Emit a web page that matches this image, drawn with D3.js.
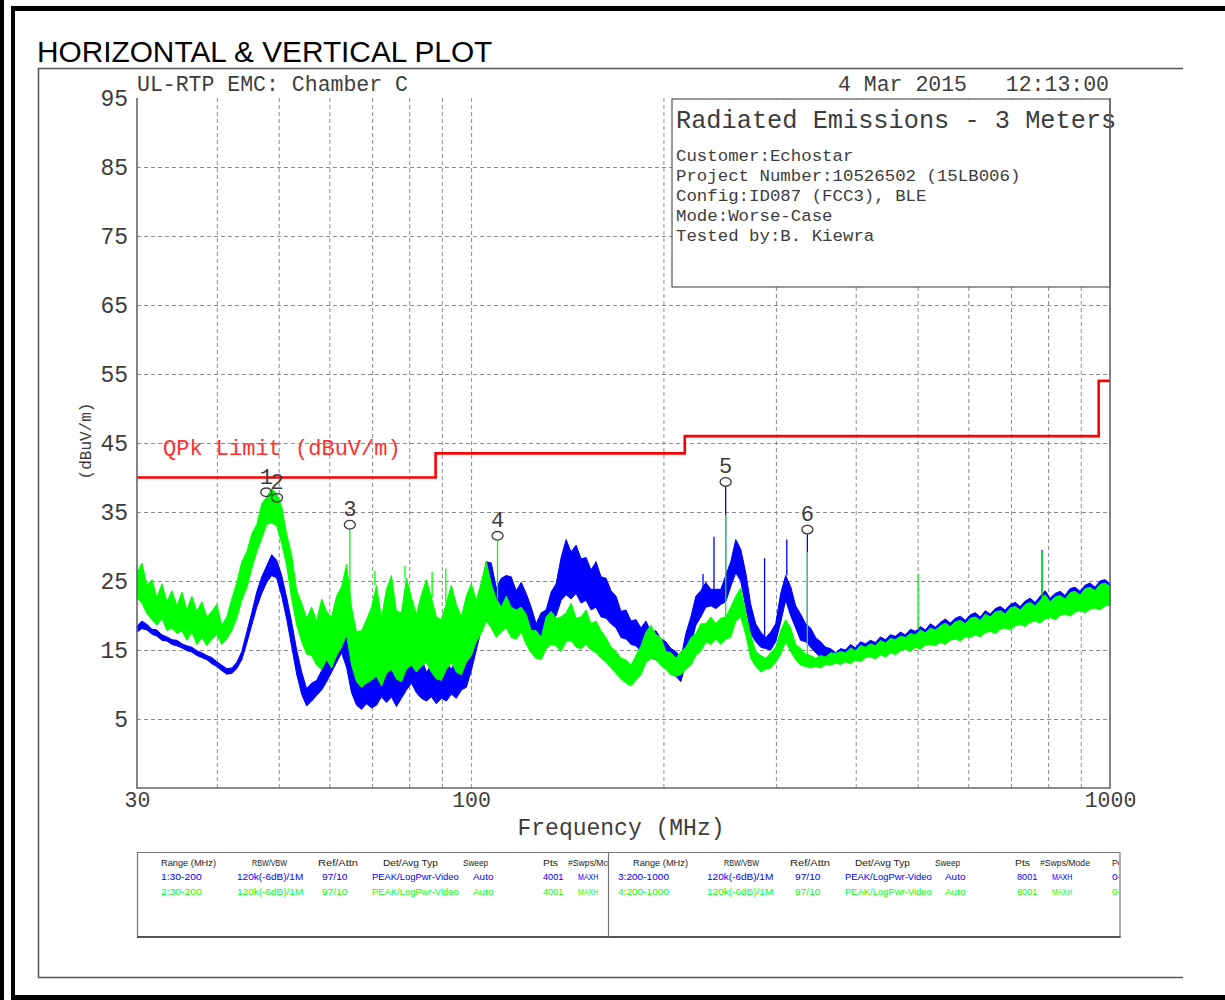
<!DOCTYPE html>
<html>
<head>
<meta charset="utf-8">
<script src="https://cdn.jsdelivr.net/npm/d3@7"></script>
<style>
  html, body { margin: 0; padding: 0; background: #fff; }
  svg { display: block; }
</style>
</head>
<body>
<svg id="chart" width="1225" height="1000"></svg>
<script>
// ---------------- data ----------------
const plotTitle = "HORIZONTAL & VERTICAL PLOT";
const siteLabel = "UL-RTP EMC: Chamber C";
const runDate = "4 Mar 2015";
const runTime = "12:13:00";
const infoTitle = "Radiated Emissions - 3 Meters";
const infoLines = [
  "Customer:Echostar",
  "Project Number:10526502 (15LB006)",
  "Config:ID087 (FCC3), BLE",
  "Mode:Worse-Case",
  "Tested by:B. Kiewra"
];
const yAxisTitle = "(dBuV/m)";
const xAxisTitle = "Frequency (MHz)";
const limitTitle = "QPk Limit (dBuV/m)";

const yTicks = [95, 85, 75, 65, 55, 45, 35, 25, 15, 5];
const yGrid = [85, 75, 65, 55, 45, 35, 25, 15, 5];
const xLabels = [30, 100, 1000];
const xGrid = [40, 50, 60, 70, 80, 90, 100, 200, 300, 400, 500, 600, 700, 800, 900];

// FCC class B quasi-peak limit, 3 m (MHz, dBuV/m)
const limitSteps = [[30, 40], [88, 43.5], [216, 46], [960, 54], [1000, 54]];

// trace envelopes (dBuV/m), min and max of each display bin on a
// log-spaced grid of 196 bins from 30 to 1000 MHz
const gridPoints = 196;
const blueLow = [
  17.6,18.1,17.9,17.3,17.0,16.4,16.3,15.8,15.6,15.3,
  14.9,14.7,14.2,13.9,13.6,13.0,12.6,12.0,11.5,11.6,
  12.3,13.6,16.0,18.6,21.2,23.2,24.8,25.8,25.4,22.8,
  19.5,15.5,11.5,8.6,6.9,7.6,8.4,9.2,10.4,11.8,
  13.2,14.6,12.5,8.8,7.0,6.4,7.2,6.6,7.0,8.2,
  7.4,8.2,6.8,8.0,9.2,10.2,8.8,8.0,7.6,8.2,
  7.2,8.0,7.6,8.6,8.0,9.2,9.6,12.0,15.0,18.0,
  21.8,22.2,20.2,21.0,22.2,21.0,20.2,21.2,19.4,17.0,
  15.6,16.2,17.4,19.2,20.0,22.2,23.0,22.4,23.2,21.8,
  22.2,20.8,21.2,19.8,19.6,18.8,18.2,16.8,16.6,15.8,
  15.6,14.8,14.6,13.8,13.6,12.8,12.6,11.8,11.2,10.4,
  13.2,15.8,18.6,19.8,21.2,21.4,21.0,21.6,22.0,24.2,
  26.2,25.0,21.2,17.4,16.2,15.4,15.2,15.0,16.2,19.0,
  22.2,20.0,18.2,16.4,16.2,15.4,14.6,14.0,13.6,13.0,
  13.2,
  13.3,13.6,13.2,13.9,13.5,14.1,14.3,13.9,14.6,14.3,
  14.9,14.5,15.1,15.4,15.0,15.6,15.3,15.9,16.0,15.8,
  16.3,16.0,16.6,16.8,16.5,17.1,17.0,17.4,17.1,17.7,
  17.9,17.6,18.2,18.4,18.1,18.7,18.9,18.6,19.2,19.4,
  19.1,19.7,19.9,19.6,20.2,20.4,20.1,20.7,20.9,20.6,
  21.1,21.3,21.0,21.6,21.7
];
const blueHigh = [
  18.4,19.2,18.7,18.0,17.9,17.2,16.9,16.5,16.4,15.9,
  15.6,15.4,14.9,14.6,14.2,13.9,13.3,12.8,12.3,12.4,
  13.2,14.8,17.6,20.4,23.4,25.6,27.2,28.8,28.0,25.8,
  22.6,19.0,15.0,11.8,9.4,10.2,10.6,12.0,13.6,15.2,
  16.8,19.6,20.8,14.6,11.0,10.8,12.2,11.2,12.8,12.4,
  14.2,15.4,12.6,16.2,14.6,18.4,15.6,13.8,11.8,12.8,
  11.2,12.4,13.2,12.2,13.8,14.0,15.8,17.2,20.4,24.2,
  27.8,27.6,24.0,25.4,25.8,25.6,23.6,24.8,23.2,21.2,
  18.8,20.4,20.8,23.4,24.6,28.4,31.0,29.2,30.2,28.2,
  28.4,26.6,27.8,25.6,25.4,23.6,22.8,20.6,20.8,19.2,
  19.4,18.2,19.2,17.6,17.8,16.6,16.2,15.2,14.8,13.8,
  17.4,19.8,22.8,23.6,24.8,23.8,23.8,23.8,25.8,27.8,
  31.0,29.6,26.2,21.6,18.8,17.6,16.8,17.6,18.8,23.2,
  25.8,24.2,21.4,20.2,18.8,18.2,16.8,16.2,15.4,15.2,
  14.6,
  15.2,15.0,15.8,15.3,16.2,15.9,16.4,16.1,16.9,16.5,
  17.2,17.0,17.6,17.2,18.0,17.7,18.4,17.9,18.8,18.3,
  19.0,19.5,18.9,19.6,19.9,19.3,20.1,20.4,19.8,20.7,
  20.2,21.0,21.3,20.8,21.6,21.9,21.3,22.1,22.5,21.9,
  22.8,23.6,22.5,23.2,23.5,22.9,23.9,24.1,23.5,24.4,
  24.7,24.1,25.0,25.2,24.6
];
const greenLow = [
  22.5,21.8,20.2,19.4,18.6,19.6,17.8,18.2,17.4,17.8,
  16.4,17.6,15.8,16.8,15.6,16.6,17.2,15.8,16.6,17.8,
  19.6,22.2,24.0,26.8,29.2,31.2,33.2,33.4,33.0,30.4,
  27.2,22.4,18.6,16.2,14.4,14.2,12.8,12.2,13.6,12.4,
  14.2,15.4,17.2,12.8,10.4,9.6,10.2,10.6,11.2,9.8,
  11.6,12.2,10.8,10.4,12.2,12.8,11.8,12.6,13.2,11.8,
  10.8,10.6,12.2,13.2,11.8,11.4,13.2,14.2,16.2,17.4,
  19.2,18.2,16.8,17.6,18.2,16.8,16.6,17.6,15.8,14.6,
  13.8,13.6,15.2,15.8,15.6,14.8,16.2,16.4,15.4,15.2,
  15.8,15.0,14.6,13.8,13.2,12.4,11.6,10.8,10.2,9.8,
  10.6,11.4,13.2,13.8,13.6,12.8,12.2,11.4,11.2,11.4,
  12.2,12.8,14.2,14.8,16.2,15.8,16.6,15.8,16.6,16.8,
  19.2,19.8,17.2,13.8,12.6,11.8,12.2,12.4,13.2,14.4,
  16.2,14.8,13.6,12.8,12.6,12.4,12.6,12.4,12.9,12.8,
  13.1,
  12.9,13.3,13.0,13.6,13.3,13.9,14.0,13.7,14.3,14.0,
  14.6,14.3,14.9,15.1,14.8,15.4,15.1,15.7,15.8,15.6,
  16.1,15.8,16.4,16.6,16.3,16.9,16.8,17.2,16.9,17.5,
  17.7,17.4,18.0,18.2,17.9,18.5,18.7,18.4,19.0,19.2,
  18.9,19.5,19.7,19.4,20.0,20.2,19.9,20.5,20.7,20.4,
  20.9,21.1,20.8,21.4,21.5
];
const greenHigh = [
  26.2,27.6,24.4,25.2,22.6,24.6,22.0,23.6,21.4,23.4,
  20.8,22.8,20.6,22.0,19.8,20.6,21.6,18.6,19.8,22.4,
  24.8,27.8,29.2,31.8,33.2,36.2,37.2,38.4,37.6,35.8,
  31.8,28.8,23.6,21.8,19.6,21.2,19.2,22.4,20.6,19.8,
  22.8,24.2,27.4,21.2,17.6,17.8,19.4,21.2,24.4,19.6,
  23.8,25.8,20.6,20.4,25.4,22.6,20.2,23.0,25.2,22.6,
  19.8,19.4,21.8,24.4,21.6,19.8,22.8,24.6,22.2,24.8,
  27.8,24.6,22.4,21.2,22.8,21.2,20.8,21.2,20.2,17.8,
  17.8,16.8,19.8,20.6,19.6,19.8,20.4,21.8,19.6,19.8,
  20.8,18.8,19.2,17.8,16.8,15.4,14.8,13.8,13.6,12.8,
  14.2,15.6,17.6,18.6,17.2,16.8,14.8,14.6,13.8,14.8,
  15.4,16.8,17.4,18.8,18.8,19.8,18.8,19.6,19.8,21.2,
  22.8,24.0,20.4,17.2,14.8,14.2,13.8,14.6,15.4,17.8,
  19.4,18.2,15.8,15.2,14.4,14.2,13.8,14.2,14.0,14.6,
  14.5,
  14.8,14.6,15.3,14.9,15.7,15.4,15.9,15.6,16.4,16.0,
  16.7,16.5,17.0,16.8,17.4,17.2,17.9,17.5,18.2,17.9,
  18.5,18.9,18.4,19.1,19.3,18.8,19.6,19.8,19.3,20.2,
  19.8,20.5,20.7,20.2,21.1,21.3,20.8,21.6,21.9,21.4,
  22.2,23.0,22.0,22.7,22.9,22.4,23.3,23.5,23.0,23.9,
  24.1,23.6,24.5,24.7,24.2
];

// narrowband emissions rising above the trace envelopes: [MHz, dBuV/m]
const blueSpikes = [[230.7, 26], [240, 31.4], [250.3, 38.7], [288, 28.3], [312, 31], [336, 31.8], [783, 29.5]];
const greenSpikes = [[64.6, 32.5], [70.7, 26.5], [78.8, 27.2], [86.9, 26.3], [91.3, 26.8], [110, 30.9],
                     [250.3, 34.6], [336, 29.2], [500.7, 26], [783, 29.3]];

// peak markers
const markerIds = ["1", "2", "3", "4", "5", "6"];
const markerFreqs = [47.8, 49.7, 64.6, 110, 250.3, 336];
const markerLevels = [37.2, 36.4, 32.5, 30.9, 38.7, 31.8];

// sweep settings table
const tableHeader = ["Range (MHz)", "RBW/VBW", "Ref/Attn", "Det/Avg Typ", "Sweep", "Pts", "#Swps/Mode", "Pos"];
const tableLeftRows = [
  ["1:30-200", "120k(-6dB)/1M", "97/10", "PEAK/LogPwr-Video", "Auto", "4001", "MAXH", "0-360"],
  ["2:30-200", "120k(-6dB)/1M", "97/10", "PEAK/LogPwr-Video", "Auto", "4001", "MAXH", "0-360"]
];
const tableRightRows = [
  ["3:200-1000", "120k(-6dB)/1M", "97/10", "PEAK/LogPwr-Video", "Auto", "8001", "MAXH", "0-360"],
  ["4:200-1000", "120k(-6dB)/1M", "97/10", "PEAK/LogPwr-Video", "Auto", "8001", "MAXH", "0-360"]
];

// ---------------- layout ----------------
const svg = d3.select("#chart");
const plot = { left: 137, right: 1110, top: 98, bottom: 788 };
const x = d3.scaleLog().domain([30, 1000]).range([plot.left, plot.right]);
const y = d3.scaleLinear().domain([-5, 95]).range([plot.bottom, plot.top]);
const ink = "#3d3d3d";
const mono = "'Liberation Mono', 'DejaVu Sans Mono', monospace";
const sans = "'Liberation Sans', Arial, sans-serif";
const colBlue = "#0000ff";
const colGreen = "#00ff00";
const colRed = "#ff0000";

const freqs = d3.range(gridPoints).map(i => 30 * Math.pow(1000 / 30, i / (gridPoints - 1)));
const nearestIndex = f => Math.round(Math.log(f / 30) / Math.log(1000 / 30) * (gridPoints - 1));

// page frame
const frame = svg.append("g").attr("fill", "#000");
frame.append("rect").attr("x", 0).attr("y", 0).attr("width", 4).attr("height", 1000);
frame.append("rect").attr("x", 11).attr("y", 6).attr("width", 1214).attr("height", 5);
frame.append("rect").attr("x", 11).attr("y", 6).attr("width", 4).attr("height", 994);
frame.append("rect").attr("x", 11).attr("y", 995).attr("width", 1214).attr("height", 5);

// inner frame
svg.append("path").attr("d", "M1183,68.5H38.5V977.5H1183")
  .attr("fill", "none").attr("stroke", "#555").attr("stroke-width", 1.5);

svg.append("text").attr("x", 37).attr("y", 62)
  .attr("font-family", sans).attr("font-size", 29.8).attr("fill", "#000")
  .text(plotTitle);

// header line
const header = svg.append("g").attr("font-family", mono).attr("font-size", 21.5).attr("fill", ink);
header.append("text").attr("x", 137).attr("y", 91).text(siteLabel);
header.append("text").attr("x", 838).attr("y", 91).text(runDate);
header.append("text").attr("x", 1109).attr("y", 91).attr("text-anchor", "end").text(runTime);

// grid
const grid = svg.append("g");
grid.append("g").attr("transform", `translate(0,${plot.bottom})`)
  .call(d3.axisBottom(x).tickValues(xGrid).tickSize(-(plot.bottom - plot.top)).tickFormat(""))
  .call(g => g.select(".domain").remove())
  .call(g => g.selectAll("line").attr("stroke", "#8c8c8c").attr("stroke-dasharray", "4,3"));
grid.append("g").attr("transform", `translate(${plot.left},0)`)
  .call(d3.axisLeft(y).tickValues(yGrid).tickSize(-(plot.right - plot.left)).tickFormat(""))
  .call(g => g.select(".domain").remove())
  .call(g => g.selectAll("line").attr("stroke", "#8c8c8c").attr("stroke-dasharray", "4,3"));

// information box
svg.append("rect").attr("x", 672).attr("y", 99).attr("width", plot.right - 672).attr("height", 188)
  .attr("fill", "#fff").attr("stroke", "#555").attr("stroke-width", 1.2);
svg.append("text").attr("x", 676).attr("y", 128)
  .attr("font-family", mono).attr("font-size", 25.3).attr("fill", ink).text(infoTitle);
svg.append("g").attr("font-family", mono).attr("font-size", 17.4).attr("fill", ink)
  .selectAll("text").data(infoLines).join("text")
  .attr("x", 676).attr("y", (d, i) => 161 + i * 20).text(d => d);

// traces: filled min/max envelope plus narrowband spikes
function drawTrace(lo, hi, spikes, color) {
  const g = svg.append("g");
  const band = d3.area()
    .x((d, i) => x(freqs[i]))
    .y0(d => y(d[0]))
    .y1(d => y(d[1]));
  g.append("path").datum(d3.zip(lo, hi))
    .attr("d", band)
    .attr("fill", color).attr("stroke", color).attr("stroke-width", 1)
    .attr("stroke-linejoin", "round");
  g.selectAll("line").data(spikes).join("line")
    .attr("x1", d => x(d[0])).attr("x2", d => x(d[0]))
    .attr("y1", d => y(hi[nearestIndex(d[0])]))
    .attr("y2", d => y(d[1]))
    .attr("stroke", color).attr("stroke-width", 1.3);
}
drawTrace(blueLow, blueHigh, blueSpikes, colBlue);
drawTrace(greenLow, greenHigh, greenSpikes, colGreen);

// limit line
svg.append("path").datum(limitSteps)
  .attr("d", d3.line().x(d => x(d[0])).y(d => y(d[1])).curve(d3.curveStepAfter))
  .attr("fill", "none").attr("stroke", colRed).attr("stroke-width", 2.6);
svg.append("text").attr("x", 163).attr("y", 455)
  .attr("font-family", mono).attr("font-size", 22).attr("fill", "#ff3030").text(limitTitle);

// markers: symbol at the peak, numeral above it
const markers = svg.append("g").attr("fill", "none").attr("stroke", ink).attr("stroke-width", 1.3);
markerIds.forEach((id, i) => {
  const mx = x(markerFreqs[i]);
  const my = y(markerLevels[i]);
  markers.append("ellipse").attr("cx", mx).attr("cy", my - 4.5).attr("rx", 5.5).attr("ry", 4.3);
  svg.append("text").attr("x", mx).attr("y", my - 13)
    .attr("text-anchor", "middle").attr("font-family", mono).attr("font-size", 22)
    .attr("fill", ink).text(id);
});

// plot box
svg.append("path")
  .attr("d", `M${plot.left},${plot.top}V${plot.bottom}H${plot.right}V${plot.top}`)
  .attr("fill", "none").attr("stroke", "#666").attr("stroke-width", 1.6);

// tick labels
svg.append("g").attr("transform", `translate(${plot.left},0)`)
  .call(d3.axisLeft(y).tickValues(yTicks).tickSize(0).tickPadding(9).tickFormat(d3.format("d")))
  .call(g => g.select(".domain").remove())
  .call(g => g.selectAll("text").attr("font-family", mono).attr("font-size", 23).attr("fill", ink));
svg.append("g").attr("transform", `translate(0,${plot.bottom})`)
  .call(d3.axisBottom(x).tickValues(xLabels).tickSize(0).tickPadding(4).tickFormat(d3.format("d")))
  .call(g => g.select(".domain").remove())
  .call(g => g.selectAll("text").attr("font-family", mono).attr("font-size", 21.5).attr("fill", ink));

// axis titles
svg.append("text").attr("transform", "translate(91,441) rotate(-90)")
  .attr("text-anchor", "middle").attr("font-family", mono).attr("font-size", 16)
  .attr("fill", ink).text(yAxisTitle);
svg.append("text").attr("x", 621).attr("y", 835).attr("text-anchor", "middle")
  .attr("font-family", mono).attr("font-size", 23).attr("fill", ink).text(xAxisTitle);

// sweep settings table
const table = { left: 137, right: 1120, top: 852, bottom: 937, split: 608.5 };
svg.append("path")
  .attr("d", `M${table.left + 0.5},${table.bottom}V${table.top + 0.5}H${table.right}V${table.bottom}`)
  .attr("fill", "none").attr("stroke", "#777").attr("stroke-width", 1.2);
svg.append("line").attr("x1", table.left).attr("x2", table.right + 0.6)
  .attr("y1", table.bottom).attr("y2", table.bottom).attr("stroke", "#555").attr("stroke-width", 2.2);
svg.append("line").attr("x1", table.split).attr("x2", table.split)
  .attr("y1", table.top).attr("y2", table.bottom).attr("stroke", "#777").attr("stroke-width", 1.2);

const defs = svg.append("defs");
defs.append("clipPath").attr("id", "clipL").append("rect")
  .attr("x", table.left).attr("y", table.top).attr("width", table.split - table.left - 1).attr("height", table.bottom - table.top);
defs.append("clipPath").attr("id", "clipR").append("rect")
  .attr("x", table.split + 1).attr("y", table.top).attr("width", table.right - table.split - 2).attr("height", table.bottom - table.top);

const headerOffsets = [24, 115, 181, 246, 326, 406, 431, 503];
const rowOffsetsL = [24, 100, 185, 235, 336, 406, 441, 503];
const rowOffsetsR = [9, 98, 186, 236, 336, 408, 443, 503];
const rowBaselines = [880, 895];
const rowColors = [colBlue, colGreen];

// each half shows only the columns that start inside its own cell
function drawHalf(x0, xMax, rows, rowOffsets, clipId) {
  const g = svg.append("g").attr("clip-path", `url(#${clipId})`)
    .attr("font-family", sans).attr("font-size", 9.8);
  const visible = i => x0 + Math.max(headerOffsets[i], rowOffsets[i]) < xMax;
  g.selectAll("text.h").data(tableHeader.filter((d, i) => visible(i))).join("text").attr("class", "h")
    .attr("x", (d, i) => x0 + headerOffsets[i]).attr("y", 866)
    .attr("textLength", d => d.length * 5).attr("lengthAdjust", "spacingAndGlyphs")
    .attr("fill", "#222").text(d => d);
  rows.forEach((row, r) => {
    g.selectAll(`text.r${r}`).data(row.filter((d, i) => visible(i))).join("text").attr("class", `r${r}`)
      .attr("x", (d, i) => x0 + rowOffsets[i]).attr("y", rowBaselines[r])
      .attr("textLength", d => d.length * 5.1).attr("lengthAdjust", "spacingAndGlyphs")
      .attr("fill", rowColors[r]).text(d => d);
  });
}
drawHalf(table.left, table.split - 1, tableLeftRows, rowOffsetsL, "clipL");
drawHalf(table.split + 0.5, table.right - 1, tableRightRows, rowOffsetsR, "clipR");
</script>
</body>
</html>
